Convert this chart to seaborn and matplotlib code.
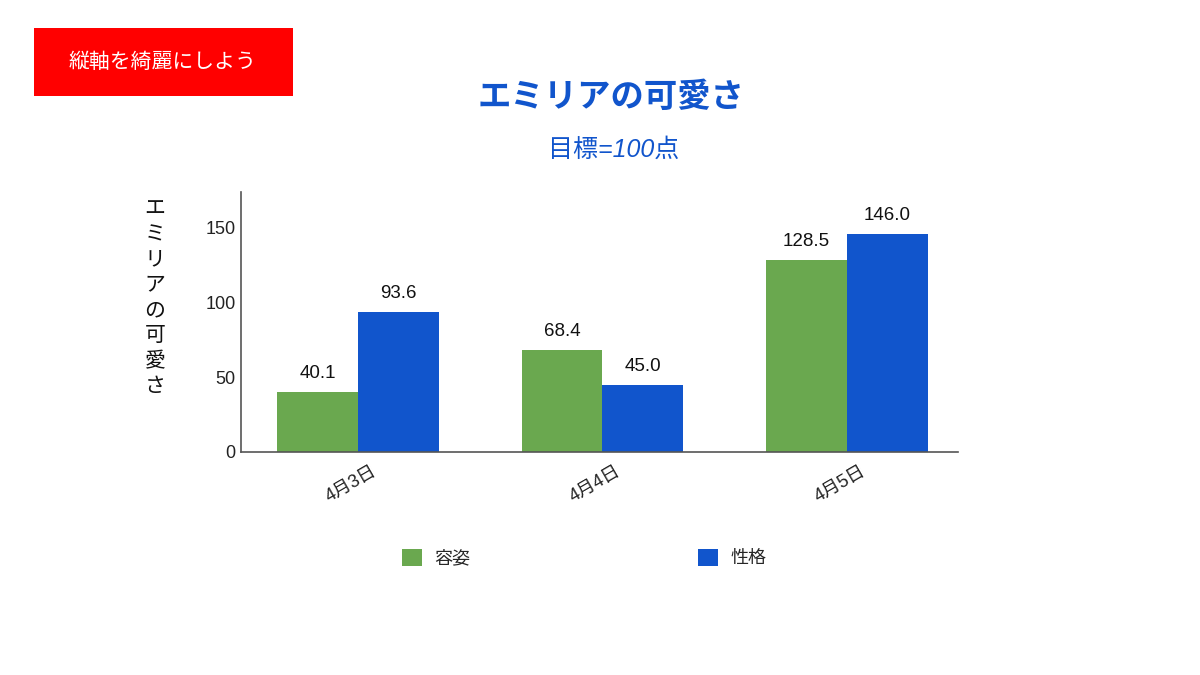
import matplotlib
matplotlib.use("Agg")
import matplotlib.pyplot as plt
import matplotlib.transforms as mtransforms
import seaborn as sns
import pandas as pd
from matplotlib.patches import Rectangle

dates = ["4月3日", "4月4日", "4月5日"]
series_names = ["容姿", "性格"]
appearance = [40.1, 68.4, 128.5]
personality = [93.6, 45.0, 146.0]
y_ticks = [0, 50, 100, 150]
title = "エミリアの可愛さ"
subtitle = "目標=100点"
y_label = "エミリアの可愛さ"
banner = "縦軸を綺麗にしよう"

GREEN = "#6aa84f"
BLUE = "#1155cc"

sns.set_theme(style="white")
plt.rcParams["font.family"] = ["Liberation Sans", "Noto Sans CJK JP", "DejaVu Sans"]

df = pd.DataFrame({
    "date": dates * 2,
    "series": [series_names[0]] * 3 + [series_names[1]] * 3,
    "value": appearance + personality,
})

fig = plt.figure(figsize=(12, 6.75), dpi=100)
ax = fig.add_axes([241 / 1200, 1 - 452 / 675, (958 - 241) / 1200, (452 - 192) / 675])

sns.barplot(data=df, x="date", y="value", hue="series", palette=[GREEN, BLUE],
            width=0.66, saturation=1, ax=ax, errorbar=None, legend=True,
            linewidth=0, edgecolor="none")

for cont in ax.containers:
    ax.bar_label(cont, labels=[f"{v:.1f}" for v in cont.datavalues],
                 padding=7, fontsize=13.5, color="#111111")

ax.set_xlim(-0.4785, 2.454)
ax.set_ylim(0, 174)
ax.set_yticks(y_ticks)
ax.set_yticklabels([str(t) for t in y_ticks], fontsize=13, color="#222222")
ax.tick_params(axis="y", length=0, pad=4)
ax.tick_params(axis="x", length=0, pad=2)
ax.set_xticks(range(len(dates)))
ax.set_xticklabels(dates, rotation=30, ha="right", rotation_mode="anchor",
                   fontsize=13, color="#222222")
offset = mtransforms.ScaledTranslation(0.13, -0.08, fig.dpi_scale_trans)
for lbl in ax.get_xticklabels():
    lbl.set_transform(lbl.get_transform() + offset)
ax.set_xlabel("")
ax.set_ylabel("")
for s in ["top", "right"]:
    ax.spines[s].set_visible(False)
for s in ["left", "bottom"]:
    ax.spines[s].set_color("#555555")
    ax.spines[s].set_linewidth(1.2)

handles, labels = ax.get_legend_handles_labels()
ax.get_legend().remove()
fig.legend(handles, labels, loc="center", bbox_to_anchor=(584 / 1200, 1 - 558 / 675),
           ncol=2, frameon=False, fontsize=13, handlelength=1.1, handleheight=1.1,
           handletextpad=0.7, columnspacing=12.6)

# Vertical stacked y-axis label
fig.text(155 / 1200, 1 - 298 / 675, "\n".join(y_label), ha="center", va="center",
         fontsize=15, linespacing=1.42, color="#111111")

# Titles
fig.text(611 / 1200, 1 - 98 / 675, title, ha="center", va="center",
         fontsize=24, fontweight="bold", fontstyle="italic", color=BLUE)
fig.text(614 / 1200, 1 - 150 / 675, subtitle, ha="center", va="center",
         fontsize=18, fontstyle="italic", color=BLUE)

# Red banner
fig.patches.append(Rectangle((34 / 1200, 1 - 96 / 675), (293 - 34) / 1200, (96 - 28) / 675,
                             transform=fig.transFigure, facecolor="#ff0000",
                             edgecolor="none", zorder=0))
fig.text(163 / 1200, 1 - 62 / 675, banner, ha="center", va="center",
         fontsize=15, color="white")

fig.savefig("out.png", dpi=100)
